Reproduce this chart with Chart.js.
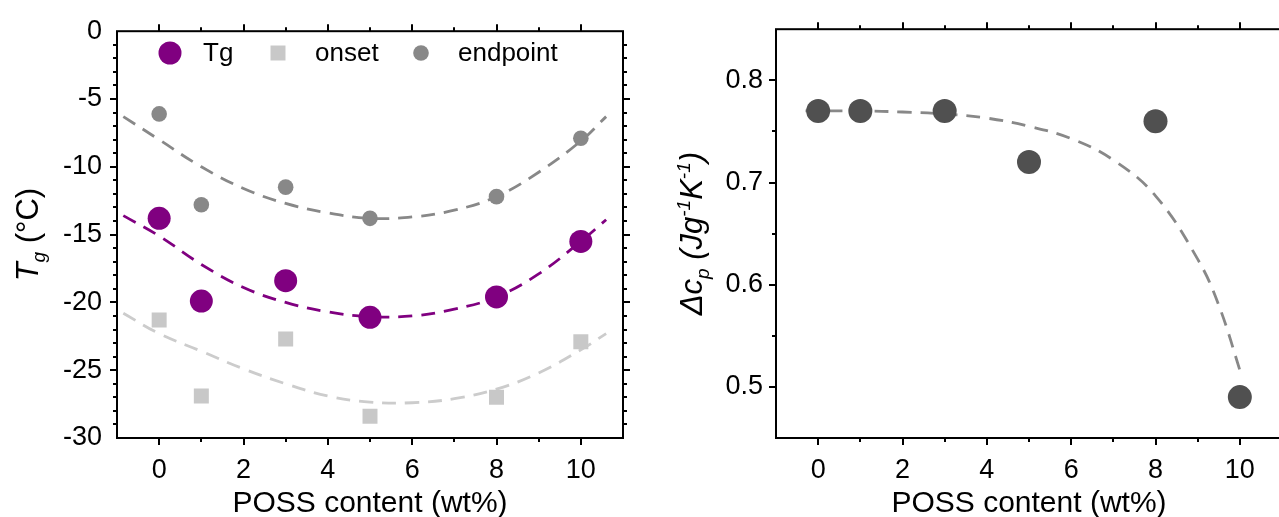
<!DOCTYPE html>
<html>
<head>
<meta charset="utf-8">
<script src="https://cdn.jsdelivr.net/npm/chart.js@4.4.0/dist/chart.umd.min.js"></script>
<style>
  html, body { margin:0; padding:0; background:#fff; overflow:hidden; width:1279px; height:517px; }
  #left  { position:absolute; left:0;     top:0; }
  #right { position:absolute; left:640px; top:0; }
</style>
</head>
<body>
<canvas id="left"  width="640" height="517"></canvas>
<canvas id="right" width="660" height="517"></canvas>
<script>

// ---- data ----
const poss      = [0, 1, 3, 5, 8, 10]
const tgMid     = [-13.8, -19.9, -18.4, -21.1, -19.6, -15.5]
const tgOnset   = [-21.3, -26.9, -22.7, -28.4, -27.0, -22.9]
const tgEnd     = [-6.1, -12.8, -11.5, -13.8, -12.2, -7.9]
const dcp       = [0.77, 0.77, 0.77, 0.72, 0.76, 0.49]

// dashed fit curves (read at a few x positions)
const fitX      = [-0.85, 0, 1, 2, 3, 4, 5, 6, 7, 8, 9, 10, 10.6]
const fitTg     = [-13.6, -15.1, -17.2, -18.9, -20.0, -20.7, -21.05, -21.0, -20.5, -19.6, -17.9, -15.5, -13.9]
const fitOnset  = [-20.8, -22.3, -23.6, -24.9, -26.0, -26.9, -27.35, -27.4, -27.1, -26.4, -25.2, -23.5, -22.3]
const fitEnd    = [-6.3, -8.0, -10.0, -11.6, -12.7, -13.4, -13.8, -13.7, -13.2, -12.2, -10.4, -8.1, -6.3]
const dcpFitX   = [-0.3, 0, 1, 2, 3, 4, 5, 6, 7, 8, 9, 9.5, 10.05]
const dcpFit    = [0.770, 0.770, 0.770, 0.769, 0.767, 0.763, 0.755, 0.743, 0.722, 0.687, 0.625, 0.58, 0.51]

// tick labels
const xTicks    = [0, 2, 4, 6, 8, 10]
const tgTicks   = [0, -5, -10, -15, -20, -25, -30]
const dcpTicks  = [0.5, 0.6, 0.7, 0.8]

const FAMILY = '"Liberation Sans", Arial, Helvetica, sans-serif'
Chart.defaults.font.family = FAMILY
Chart.defaults.color = '#000'

const pts = (xs, ys) => xs.map((x, i) => ({ x: x, y: ys[i] }))


function steps(min, max, step){
      const n = Math.round((max - min) / step)
      const out = []
      for (let i = 0; i <= n; i++){ out.push(min + i * step) }
      return out
}

function isMajor(list, v){ return list.some(t => Math.abs(t - v) < 1e-6) }


// text with italic / sub / sup pieces, centred on (cx, baseline cy)
function richText(ctx, parts, size, cx, cy, rotate){
      ctx.save()
      ctx.translate(cx, cy)
      if (rotate) { ctx.rotate(-Math.PI / 2) }
      const fontOf = p => (p.it ? 'italic ' : '') + Math.round((p.sub || p.sup) ? size * 0.62 : size) + 'px ' + FAMILY
      let w = 0
      parts.forEach(p => { ctx.font = fontOf(p); w += ctx.measureText(p.t).width })
      let xx = -w / 2
      ctx.fillStyle = '#000'
      ctx.textAlign = 'left'
      ctx.textBaseline = 'alphabetic'
      parts.forEach(p => {
            ctx.font = fontOf(p)
            const dy = p.sub ? size * 0.22 : (p.sup ? -size * 0.4 : 0)
            ctx.fillText(p.t, xx, dy)
            xx += ctx.measureText(p.t).width
      })
      ctx.restore()
}


// frame, outward major/minor ticks on all four sides, titles, legend
const decor = {
      id: 'decor',
      afterDraw(chart, args, o){
            const { ctx, chartArea: a, scales: { x, y } } = chart
            ctx.save()
            ctx.strokeStyle = '#000'
            ctx.lineWidth = 2

            ctx.beginPath()
            steps(x.min, x.max, o.xMinor).forEach(v => {
                  const p = Math.round(x.getPixelForValue(v))
                  if (p <= a.left + 1 || p >= a.right - 1) return
                  const len = isMajor(o.xMajor, v) ? 7 : 4
                  ctx.moveTo(p, a.bottom); ctx.lineTo(p, a.bottom + len)
                  ctx.moveTo(p, a.top);    ctx.lineTo(p, a.top - len)
            })
            steps(y.min, y.max, o.yMinor).forEach(v => {
                  const p = Math.round(y.getPixelForValue(v))
                  if (p <= a.top + 1 || p >= a.bottom - 1) return
                  const len = isMajor(o.yMajor, v) ? 7 : 4
                  ctx.moveTo(a.left, p);  ctx.lineTo(a.left - len, p)
                  ctx.moveTo(a.right, p); ctx.lineTo(a.right + len, p)
            })
            ctx.stroke()
            ctx.strokeRect(a.left, a.top, a.right - a.left, a.bottom - a.top)

            // axis titles
            richText(ctx, o.xTitle, 30, (a.left + a.right) / 2, 512, false)
            richText(ctx, o.yTitle, 31, o.yTitleX, (a.top + a.bottom) / 2, true)

            // legend
            if (o.legend){
                  ctx.font = '26px ' + FAMILY
                  ctx.textBaseline = 'middle'
                  ctx.textAlign = 'left'
                  o.legend.forEach(item => {
                        const ds = chart.data.datasets[item.ds]
                        ctx.fillStyle = ds.pointBackgroundColor
                        const r = ds.pointRadius
                        if (ds.pointStyle === 'rect'){
                              const s = r * Math.SQRT1_2
                              ctx.fillRect(item.mx - s, o.legendY - s, 2 * s, 2 * s)
                        } else {
                              ctx.beginPath()
                              ctx.arc(item.mx, o.legendY, r, 0, Math.PI * 2)
                              ctx.fill()
                        }
                        ctx.fillStyle = '#000'
                        ctx.fillText(ds.label, item.tx, o.legendY + 1)
                  })
            }
            ctx.restore()
      }
}


function markers(label, xs, ys, color, radius, style){
      return {
            label: label,
            data: pts(xs, ys),
            pointStyle: style || 'circle',
            pointRadius: radius,
            pointBackgroundColor: color,
            pointBorderWidth: 0,
            borderColor: color,
            showLine: false,
      }
}

function fitLine(xs, ys, color){
      return {
            label: '',
            data: pts(xs, ys),
            showLine: true,
            pointRadius: 0,
            borderColor: color,
            borderWidth: 2.8,
            borderDash: [14, 9],
            tension: 0.4,
            fill: false,
      }
}

function axes(yOpt){
      const tickFont = { size: 27 }
      return {
            x: {
                  type: 'linear', min: -1, max: 11,
                  grid: { display: false, drawTicks: false }, border: { display: false },
                  ticks: { font: tickFont, padding: 16, color: '#000' },
                  afterBuildTicks: s => { s.ticks = xTicks.map(v => ({ value: v })) },
                  afterFit: s => { s.height = 79 },
            },
            y: {
                  type: 'linear', min: yOpt.min, max: yOpt.max,
                  grid: { display: false, drawTicks: false }, border: { display: false },
                  ticks: { font: tickFont, padding: yOpt.pad, color: '#000', callback: yOpt.fmt },
                  afterBuildTicks: s => { s.ticks = yOpt.ticks.map(v => ({ value: v })) },
                  afterFit: s => { s.width = yOpt.width },
            },
      }
}

const common = {
      responsive: false,
      animation: false,
      events: [],
      plugins: { legend: { display: false }, tooltip: { enabled: false } },
}


// left: glass transition temperatures
new Chart(document.getElementById('left'), {
      type: 'scatter',
      data: {
            datasets: [
                  markers('Tg', poss, tgMid, '#800080', 11.5),
                  markers('onset', poss, tgOnset, '#c8c8c8', 10.6, 'rect'),
                  markers('endpoint', poss, tgEnd, '#888888', 7.8),
                  fitLine(fitX, fitTg, '#800080'),
                  fitLine(fitX, fitOnset, '#cccccc'),
                  fitLine(fitX, fitEnd, '#888888'),
            ]
      },
      options: {
            ...common,
            layout: { padding: { top: 26, right: 17, left: 0, bottom: 0 } },
            scales: axes({ min: -30, max: 0, ticks: tgTicks, pad: 15, width: 117, fmt: v => String(v) }),
            plugins: {
                  ...common.plugins,
                  decor: {
                        xMinor: 1, xMajor: xTicks, yMinor: 1, yMajor: tgTicks,
                        xTitle: [{ t: 'POSS content (wt%)' }],
                        yTitle: [{ t: 'T', it: true }, { t: 'g', it: true, sub: true }, { t: ' (°C)' }],
                        yTitleX: 38,
                        legendY: 53,
                        legend: [ { ds: 0, mx: 170, tx: 203 }, { ds: 1, mx: 278, tx: 315 }, { ds: 2, mx: 421, tx: 458 } ],
                  }
            }
      },
      plugins: [decor]
})


// right: heat capacity step
new Chart(document.getElementById('right'), {
      type: 'scatter',
      data: {
            datasets: [
                  markers('Δcp', poss, dcp, '#505050', 12),
                  fitLine(dcpFitX, dcpFit, '#888888'),
            ]
      },
      options: {
            ...common,
            layout: { padding: { top: 26, right: 18, left: 0, bottom: 0 } },
            scales: axes({ min: 0.45, max: 0.85, ticks: dcpTicks, pad: 13, width: 136, fmt: v => v.toFixed(1) }),
            plugins: {
                  ...common.plugins,
                  decor: {
                        xMinor: 1, xMajor: xTicks, yMinor: 0.05, yMajor: dcpTicks,
                        xTitle: [{ t: 'POSS content (wt%)' }],
                        yTitle: [
                              { t: 'Δc', it: true }, { t: 'p', it: true, sub: true },
                              { t: ' (Jg', it: true }, { t: '-1', it: true, sup: true },
                              { t: 'K', it: true }, { t: '-1', it: true, sup: true }, { t: ')', it: true },
                        ],
                        yTitleX: 62,
                  }
            }
      },
      plugins: [decor]
})

</script>
</body>
</html>
